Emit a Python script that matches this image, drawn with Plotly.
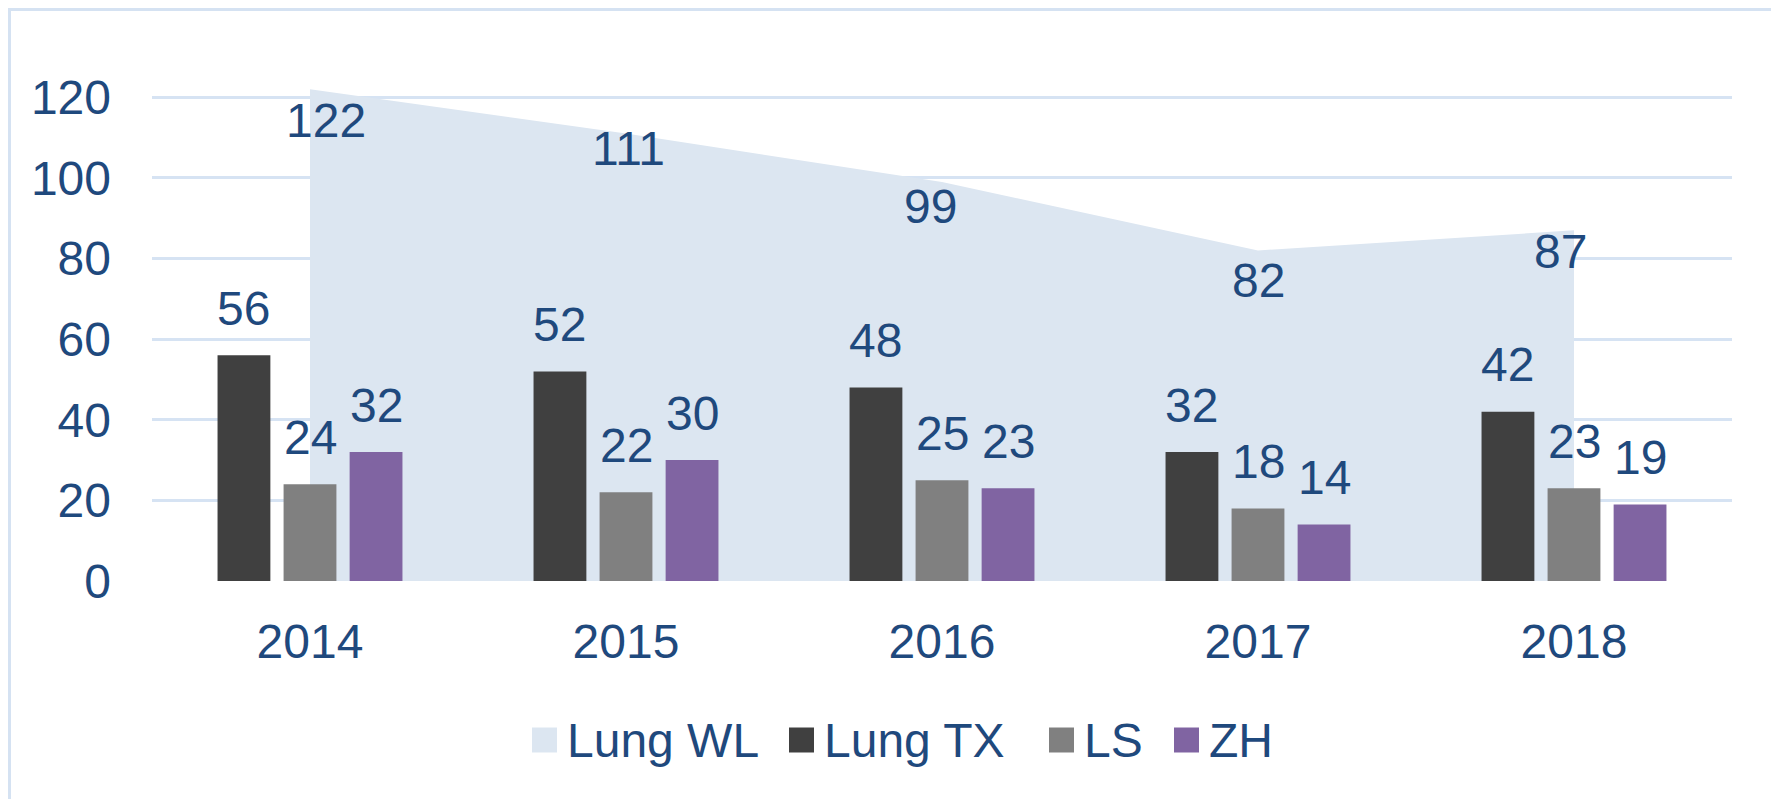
import plotly.graph_objects as go

# ---- data ----
years = ["2014", "2015", "2016", "2017", "2018"]
lung_wl = [122, 111, 99, 82, 87]
lung_tx = [56, 52, 48, 32, 42]
ls_vals = [24, 22, 25, 18, 23]
zh_vals = [32, 30, 23, 14, 19]
y_ticks = [0, 20, 40, 60, 80, 100, 120]

series_names = ["Lung WL", "Lung TX", "LS", "ZH"]
bar_series = [("Lung TX", lung_tx), ("LS", ls_vals), ("ZH", zh_vals)]

# ---- style / layout (page pixel coordinates; body margin of 8px is compensated) ----
OFF = 8
W, H = 1779 - OFF, 799 - OFF
ML = 152 - OFF
MR = 47
MT = 57 - OFF
MB = H - (581 - OFF)
PW, PH = W - ML - MR, H - MT - MB
YMAX = 130
FONT = "Liberation Sans, Arial, sans-serif"
FS = 48
TXT = "#1F497D"
GRID = "#D6E3F3"
AREA = "#DCE6F1"
colors = {"Lung WL": AREA, "Lung TX": "#404040", "LS": "#808080", "ZH": "#8064A2"}
BARGAP, GROUPGAP = 0.373, 0.2

# offsets (px) of the area value labels relative to each point
wl_label_dx = [16, 2, -12, 0, -14]
wl_label_dy = [-31, -15, -25, -30, -21]

fig = go.Figure()

# area (base subplot, drawn under the bars)
fig.add_trace(go.Scatter(
    x=years, y=lung_wl, name="Lung WL", mode="none", fill="tozeroy",
    fillcolor=AREA, showlegend=False, hoverinfo="x+y", xaxis="x", yaxis="y",
))

# bars on an overlaying subplot so they sit above the area
for name, vals in bar_series:
    fig.add_trace(go.Bar(
        x=years, y=vals, name=name, marker_color=colors[name],
        marker_line_width=0, showlegend=False, xaxis="x2", yaxis="y2",
    ))

annotations = []
# bar value labels
cat_px = PW / len(years)
slot_px = cat_px * (1 - BARGAP) / len(bar_series)
for k, (name, vals) in enumerate(bar_series):
    for i, v in enumerate(vals):
        annotations.append(dict(
            x=i, y=v, xref="x", yref="y", text=str(v), showarrow=False,
            xanchor="center", yanchor="middle",
            xshift=(k - 1) * slot_px, yshift=47,
            font=dict(family=FONT, size=FS, color=TXT),
        ))
# area value labels
for i, (v, dx, dy) in enumerate(zip(lung_wl, wl_label_dx, wl_label_dy)):
    annotations.append(dict(
        x=i, y=v, xref="x", yref="y", text=str(v), showarrow=False,
        xanchor="center", yanchor="middle", xshift=dx, yshift=dy,
        font=dict(family=FONT, size=FS, color=TXT),
    ))

# page px -> paper coords
def px_x(px):
    return (px - OFF - ML) / PW

def px_y(py):
    return (H - MB - (py - OFF)) / PH

# manual legend (large square swatches)
legend_x = [532, 789, 1049, 1174]
SW = 25
LEG_CY = 740
shapes = []
for name, lx in zip(series_names, legend_x):
    shapes.append(dict(
        type="rect", xref="paper", yref="paper",
        x0=px_x(lx), x1=px_x(lx + SW),
        y0=px_y(LEG_CY + SW / 2), y1=px_y(LEG_CY - SW / 2),
        fillcolor=colors[name], line=dict(width=0),
    ))
    annotations.append(dict(
        x=px_x(lx + SW + 8), y=px_y(LEG_CY), xref="paper", yref="paper",
        text=name, showarrow=False, xanchor="left", yanchor="middle",
        font=dict(family=FONT, size=FS, color=TXT),
    ))

# outer border
shapes.append(dict(
    type="rect", xref="paper", yref="paper",
    x0=px_x(9.5), x1=px_x(1775.5),
    y0=px_y(815), y1=px_y(9.5),
    line=dict(color="#D5E2F2", width=3), fillcolor="rgba(0,0,0,0)", layer="below",
))

axis_font = dict(family=FONT, size=FS, color=TXT)
fig.update_layout(
    width=W, height=H,
    margin=dict(l=ML, r=MR, t=MT, b=MB, pad=0, autoexpand=False),
    paper_bgcolor="white", plot_bgcolor="white",
    barmode="group", bargap=BARGAP, bargroupgap=GROUPGAP,
    showlegend=False,
    xaxis=dict(type="category", categoryorder="array", categoryarray=years,
               range=[-0.5, len(years) - 0.5], showgrid=False, zeroline=False,
               showline=False, ticks="", tickfont=axis_font, ticklabelstandoff=28),
    yaxis=dict(range=[0, YMAX], tickvals=y_ticks, showgrid=True, gridcolor=GRID,
               gridwidth=3, zeroline=False, showline=False, ticks="",
               tickfont=axis_font, ticklabelstandoff=40),
    xaxis2=dict(type="category", categoryorder="array", categoryarray=years,
                range=[-0.5, len(years) - 0.5], overlaying="x", visible=False),
    yaxis2=dict(range=[0, YMAX], overlaying="y", visible=False),
    annotations=annotations, shapes=shapes,
)

fig.write_html("out.html")
